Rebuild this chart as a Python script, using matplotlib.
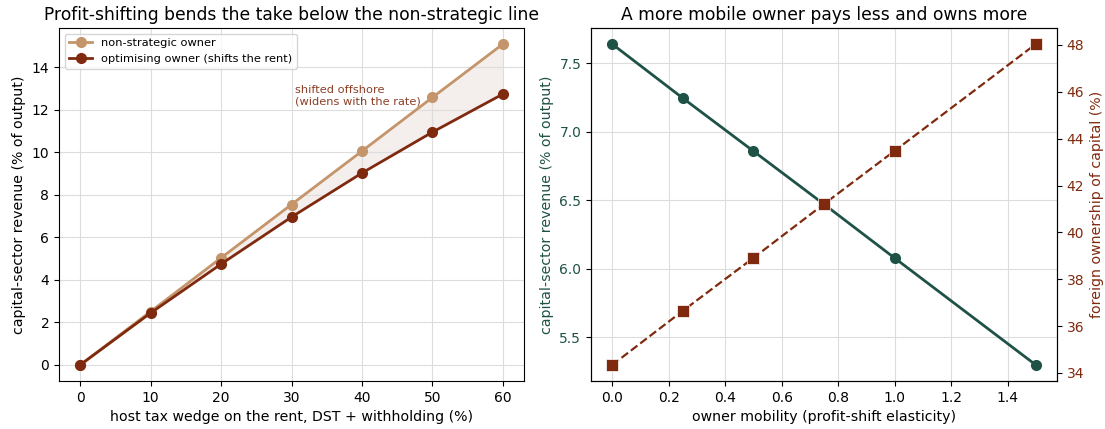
import matplotlib
matplotlib.use('Agg')
import matplotlib.pyplot as plt
import numpy as np

TAN = '#c4956a'
BROWN = '#7f2a0f'
GREEN = '#1f5247'

# left panel: revenue vs tax wedge
wedge = [0, 10, 20, 30, 40, 50, 60]
rev_naive = [0.0, 2.51, 5.03, 7.54, 10.05, 12.57, 15.08]
rev_opt = [0.0, 2.44, 4.74, 6.95, 9.02, 10.94, 12.73]

# right panel: mobility sweep
mobility = [0.0, 0.25, 0.5, 0.75, 1.0, 1.5]
rev_mob = [7.64, 7.245, 6.858, 6.47, 6.077, 5.296]
foreign_own = [34.34, 36.65, 38.91, 41.21, 43.48, 48.04]

W, H = 1105, 429
fig = plt.figure(figsize=(W / 100, H / 100), dpi=100)
ax1 = fig.add_axes([59 / W, 1 - 381 / H, (524 - 59) / W, (381 - 28) / H])
ax2 = fig.add_axes([591 / W, 1 - 381 / H, (1057 - 591) / W, (381 - 28) / H])

ax1.fill_between(wedge, rev_opt, rev_naive, color=BROWN, alpha=0.08, lw=0)
ax1.plot(wedge, rev_naive, '-o', color=TAN, lw=2, ms=7, label='non-strategic owner')
ax1.plot(wedge, rev_opt, '-o', color=BROWN, lw=2, ms=7, label='optimising owner (shifts the rent)')
ax1.text(30.5, 12.65, 'shifted offshore\n(widens with the rate)', color=BROWN,
         fontsize=8.2, ha='left', va='center', alpha=0.9)
ax1.set_xlabel('host tax wedge on the rent, DST + withholding (%)', fontsize=10.2)
ax1.set_ylabel('capital-sector revenue (% of output)', fontsize=10.2)
ax1.set_title('Profit-shifting bends the take below the non-strategic line', fontsize=12.3)
ax1.grid(True, color='#dddddd', lw=0.8)
ax1.legend(loc='upper left', fontsize=8.2)
ax1.tick_params(labelsize=10)

ax2.plot(mobility, rev_mob, '-o', color=GREEN, lw=2, ms=7)
ax2.set_ylabel('capital-sector revenue (% of output)', color=GREEN, fontsize=10.2)
ax2.tick_params(axis='y', labelcolor=GREEN, labelsize=10)
ax2.tick_params(axis='x', labelsize=10)
ax2.set_xlabel('owner mobility (profit-shift elasticity)', fontsize=10.2)
ax2.grid(True, color='#dddddd', lw=0.8)
ax2.set_title('A more mobile owner pays less and owns more', fontsize=12.3)

ax3 = ax2.twinx()
ax3.plot(mobility, foreign_own, '--s', color=BROWN, lw=1.6, ms=8, mec='white', mew=0.5)
ax3.set_ylabel('foreign ownership of capital (%)', color=BROWN, fontsize=10.2)
ax3.tick_params(axis='y', labelcolor=BROWN, labelsize=10)

fig.savefig('out.png', dpi=100, facecolor='white')
